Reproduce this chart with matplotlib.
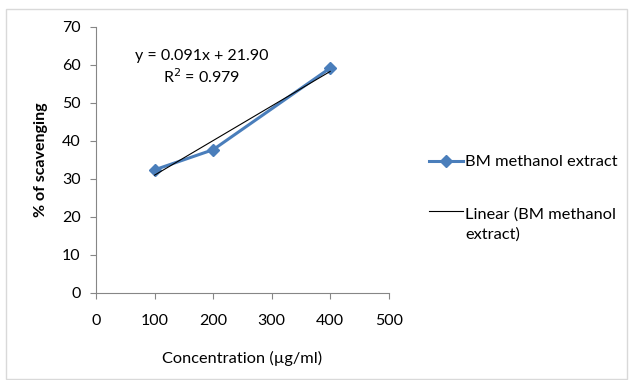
import numpy as np
import matplotlib.pyplot as plt
from matplotlib.patches import Rectangle

# data
conc = [100, 200, 400]
scavenging = [32.4, 37.7, 59.2]
slope, intercept = 0.091, 21.90
r2 = 0.979

plt.rcParams['font.family'] = ['Lato', 'DejaVu Sans']

fig = plt.figure(figsize=(6.29, 3.80), dpi=100)
ax = fig.add_axes([0.1526, 0.229, 0.4654, 0.70])

ax.plot(conc, scavenging, '-D', color='#4A7EBB', lw=2.2, ms=6,
        label='BM methanol extract', zorder=3)

xfit = np.array([min(conc), max(conc)])
ax.plot(xfit, slope * xfit + intercept, color='black', lw=0.8,
        label='Linear (BM methanol\nextract)', zorder=4)

ax.set_xlim(0, 500)
ax.set_ylim(0, 70)
ax.set_xticks(np.arange(0, 501, 100))
ax.set_yticks(np.arange(0, 71, 10))
for s in ['top', 'right']:
    ax.spines[s].set_visible(False)
for s in ['left', 'bottom']:
    ax.spines[s].set_color('#868686')
    ax.spines[s].set_linewidth(0.8)
ax.tick_params(colors='#868686', labelcolor='black', labelsize=11.5, length=4, width=0.8)
ax.tick_params(axis='x', pad=11)
ax.tick_params(axis='y', pad=7)

ax.set_xlabel('Concentration (µg/ml)', fontsize=11.8, labelpad=17)
ax.set_ylabel('% of scavenging', fontsize=11.5, fontweight='bold', labelpad=10)

ax.text(181, 62.3, 'y = %.3fx + %.2f' % (slope, intercept), ha='center', va='center', fontsize=11.5)
ax.text(181, 56.8, 'R$^2$ = %.3f' % r2, ha='center', va='center', fontsize=11.5)

leg = ax.legend(loc='upper left', bbox_to_anchor=(429 / 629, 1 - 155 / 380),
                bbox_transform=fig.transFigure, frameon=False, borderpad=0,
                borderaxespad=0, fontsize=11.8, handlelength=2.1,
                handletextpad=0.1, labelspacing=2.3)
for t in leg.get_texts():
    t.set_linespacing(1.5)
trend_handle = leg.get_lines()[1]
trend_handle.set_ydata(np.asarray(trend_handle.get_ydata()) + 9.5)

fig.add_artist(Rectangle((6 / 629, 1 / 380), 621 / 629, 370 / 380, transform=fig.transFigure,
                         fill=False, edgecolor='#d9d9d9', lw=1))

fig.savefig('out.png', dpi=100)
